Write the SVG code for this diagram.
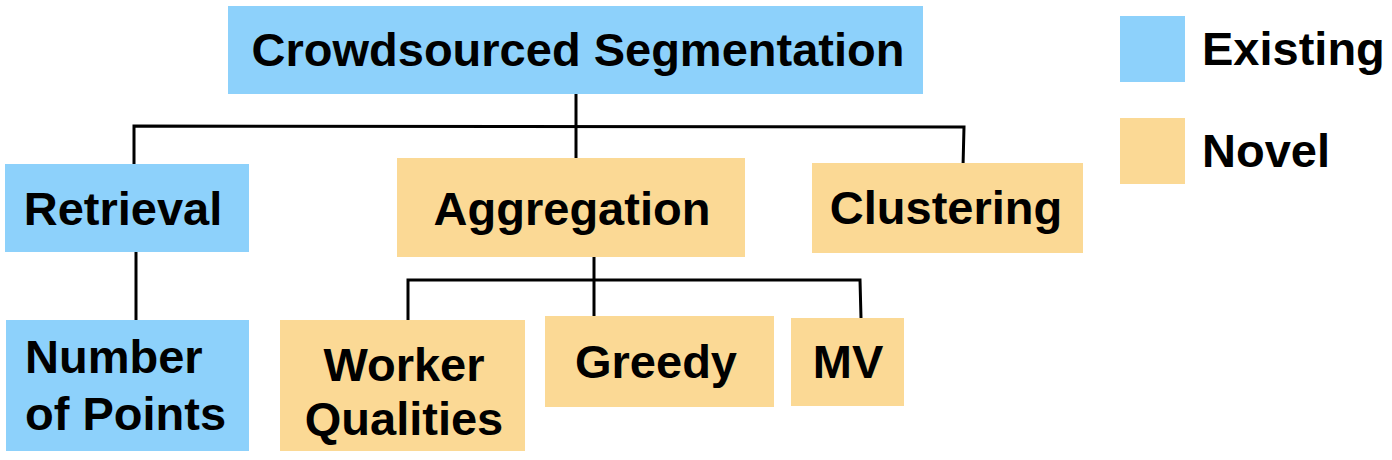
<svg xmlns="http://www.w3.org/2000/svg" width="1392" height="460" viewBox="0 0 1392 460">
<style>
.ex{fill:#8DD1FB}
.nv{fill:#FBD995}
text{font-family:"Liberation Sans",Arial,sans-serif;font-weight:bold;font-size:47px;fill:#000}
.c{text-anchor:middle}
.ln{stroke:#000;stroke-width:3;fill:none}
</style>
<rect width="1392" height="460" fill="#fff"/>
<g id="connectors">
<polyline class="ln" points="134,168 134,126 964,127 963,167"/>
<line class="ln" x1="576" y1="94" x2="576" y2="159"/>
<line class="ln" x1="136" y1="252" x2="136" y2="321"/>
<polyline class="ln" points="408,321 408,280 860,280 861,318"/>
<line class="ln" x1="594" y1="257" x2="594" y2="320"/>
</g>
<g id="root"><rect class="ex" x="228" y="6" width="695" height="88"/><text class="c" x="578" y="66">Crowdsourced Segmentation</text></g>
<g id="retrieval"><rect class="ex" x="5" y="164" width="244" height="88"/><text class="c" x="123" y="225">Retrieval</text></g>
<g id="aggregation"><rect class="nv" x="397" y="158" width="348" height="99"/><text class="c" x="572" y="225">Aggregation</text></g>
<g id="clustering"><rect class="nv" x="812" y="163" width="271" height="90"/><text class="c" x="946" y="224">Clustering</text></g>
<g id="numpoints"><rect class="ex" x="6" y="320" width="243" height="131"/><text x="25" y="373">Number</text><text x="25" y="430">of Points</text></g>
<g id="worker"><rect class="nv" x="280" y="320" width="245" height="131"/><text class="c" x="404" y="381">Worker</text><text class="c" x="404" y="435">Qualities</text></g>
<g id="greedy"><rect class="nv" x="545" y="316" width="229" height="91"/><text class="c" x="656" y="378">Greedy</text></g>
<g id="mv"><rect class="nv" x="791" y="318" width="113" height="88"/><text class="c" x="848" y="378">MV</text></g>
<g id="legend-existing"><rect class="ex" x="1120" y="16" width="65" height="66"/><text x="1202" y="65">Existing</text></g>
<g id="legend-novel"><rect class="nv" x="1120" y="118" width="65" height="66"/><text x="1202" y="167">Novel</text></g>
</svg>
